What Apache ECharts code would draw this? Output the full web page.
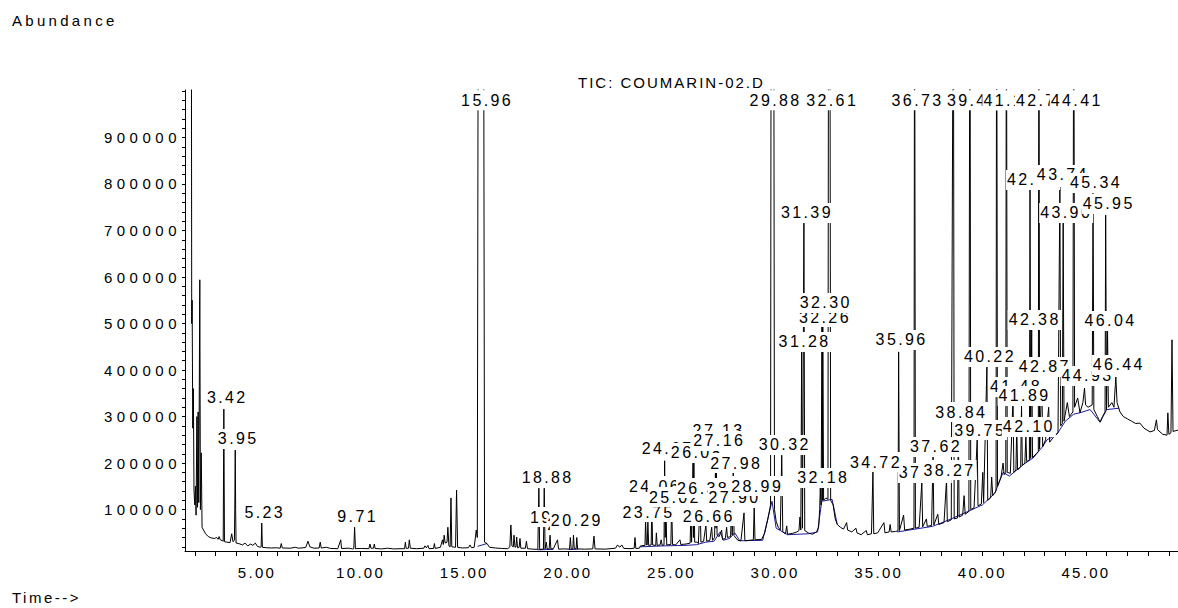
<!DOCTYPE html>
<html>
<head>
<meta charset="utf-8">
<script src="https://cdn.jsdelivr.net/npm/echarts@6/dist/echarts.min.js"></script>
<style>
html,body{margin:0;padding:0;background:#fff;}
#chart{width:1178px;height:608px;}
</style>
</head>
<body>
<div id="chart"></div>
<script>
// ---- Data (time in min, abundance) ----
const ticEarly = [
[1.76,1400000],[1.83,1400000],[1.85,500000],[1.87,550000],[1.90,275000],[1.93,360000],[1.96,140000],
[2.00,110000],[2.03,150000],[2.06,88000],[2.10,300000],[2.13,105000],[2.16,310000],[2.19,115000],
[2.24,594000],[2.27,100000],[2.31,222000],[2.35,62000],[2.42,56000],[2.52,48000],[2.65,42000],
[2.80,39000],[2.95,38000],[3.05,40000],[3.12,36000],[3.17,42000],[3.23,35000],[3.33,33000],
[3.37,32000],[3.40,316000],[3.43,31000],[3.55,30000],[3.70,29000],[3.78,48000],[3.84,31000],
[3.91,34000],[3.93,110000],[3.95,228000],[3.97,100000],[3.99,28000],[4.12,27000],[4.30,24000],
[4.42,28000],[4.55,22000],[4.70,26000],[4.80,23000],[4.92,28000],[5.02,21000],[5.15,19000],
[5.20,20000],[5.23,71000],[5.26,19000],[5.45,18000],[5.70,17500],[5.95,18000],[6.12,17000],
[6.17,27000],[6.22,17500],[6.60,17000],[6.85,19000],[7.00,17000],[7.35,18500],[7.46,32000],
[7.55,20000],[7.75,17000],[8.00,17500],[8.05,30000],[8.10,17500],[8.35,19000],[8.55,16500],
[8.90,16000],[9.04,35000],[9.08,16500],[9.45,17000],[9.60,15500],[9.67,16000],[9.71,62000],
[9.75,16000],[10.05,16500],[10.40,16000],[10.45,26000],[10.50,17000],[10.62,17000],[10.66,26000],
[10.70,16500],[11.00,15500],[11.30,17000],[11.60,15500],[11.95,16000],[12.12,16000],[12.16,30000],
[12.20,16500],[12.31,17000],[12.35,35000],[12.40,17000],[12.70,16000],[13.05,17000],[13.10,22000],
[13.17,18000],[13.25,23000],[13.30,16000],[13.52,16500],[13.56,27000],[13.60,16500],[13.85,19000],
[13.95,35000],[13.99,25000],[14.03,45000],[14.08,28000],[14.17,30000],[14.21,62000],[14.26,22000],
[14.32,20000],[14.36,125000],[14.40,20000],[14.58,19000],[14.63,142000],[14.68,19000],[14.90,17500],
[15.20,18000],[15.28,24000],[15.35,18000],[15.48,19000],[15.58,56000],[15.63,40000],[15.68,1400000],
[15.93,1400000],[15.98,30000],[16.10,27000],[16.22,19000],[16.50,17500]
];
const ticMid = [
[16.80,16500],[17.10,16000],[17.20,20000],[17.25,67000],[17.30,22000],[17.37,20000],[17.40,45000],
[17.45,19000],[17.50,20000],[17.53,41000],[17.57,18000],[17.65,19000],[17.69,38000],[17.73,17000],
[17.95,17000],[18.00,32000],[18.05,16000],[18.30,15000],[18.55,14500],[18.60,146000],[18.64,14500],
[18.82,15000],[18.86,146000],[18.90,15500],[18.96,30000],[19.00,15000],[19.10,16000],[19.14,45000],
[19.18,15500],[19.30,16000],[19.50,35000],[19.55,15000],[19.80,15500],[20.08,15000],[20.12,40000],
[20.16,15500],[20.24,15500],[20.27,45000],[20.31,16000],[20.40,16000],[20.43,40000],[20.47,15500],
[20.80,15000],[21.20,15500],[21.26,43000],[21.31,15500],[21.80,15000],[22.30,17000],[22.40,24000],
[22.50,19000],[22.60,24000],[22.70,16500],[23.00,16000],[23.20,17000],[23.24,40000],[23.28,16500],
[23.45,17000],[23.50,22000],[23.72,23000],[23.75,78000],[23.79,24000],[23.83,24000],[23.86,73000],
[23.90,23000],[24.02,24000],[24.05,114000],[24.09,24000],[24.24,23000],[24.27,50000],[24.31,23000],
[24.45,24000],[24.50,35000],[24.55,23000],[24.64,24000],[24.67,205000],[24.70,40000],[24.73,114000],
[24.77,24000],[24.97,25000],[25.01,114000],[25.05,25000],[25.20,24000],[25.41,35000],[25.45,25000],
[25.70,26000],[25.90,28000],[25.93,84000],[25.97,30000],[26.04,200000],[26.06,40000],[26.08,202000],
[26.12,30000],[26.25,30000],[26.30,27000],[26.38,127000],[26.42,30000],[26.55,32000],[26.66,67000],
[26.70,32000],[26.85,34000],[26.94,62000],[26.98,34000],[27.08,40000],[27.13,228000],[27.15,60000],
[27.16,220000],[27.20,45000],[27.30,42000],[27.42,56000],[27.46,36000],[27.60,38000],[27.66,62000],
[27.70,40000],[27.85,42000],[27.90,108000],[27.93,45000],[27.98,181000],[28.02,44000],[28.20,34000],
[28.35,33000],[28.50,93000],[28.54,33000],[28.75,34000],[28.95,35000],[28.99,106000],[29.03,35000],
[29.35,36000],[29.50,50000],[29.65,80000],[29.78,110000],[29.81,1400000],[29.93,1400000],[29.97,100000],
[30.05,75000],[30.15,62000],[30.25,56000],[30.32,217000],[30.37,52000],[30.50,48000],[30.56,65000],
[30.60,47000],[30.85,49000],[31.05,52000],[31.15,55000],[31.20,84000],[31.24,56000],[31.28,439000],
[31.32,60000],[31.39,716000],[31.43,55000],[31.60,50000],[31.80,47000],[32.00,52000],[32.10,62000],
[32.15,100000],[32.18,146000],[32.22,110000],[32.26,493000],[32.28,120000],[32.30,525000],[32.34,120000],
[32.45,125000],[32.55,122000],[32.58,1400000],[32.64,1400000],[32.68,120000],[32.80,110000],
[32.90,80000],[33.00,68000]
];
const ticLate = [
[33.15,62000],[33.30,58000],[33.45,72000],[33.50,56000],[33.70,52000],[33.90,60000],[33.95,50000],
[34.15,46000],[34.40,55000],[34.45,46000],[34.65,48000],[34.72,181000],[34.76,48000],[34.95,50000],
[35.25,72000],[35.30,50000],[35.50,52000],[35.55,68000],[35.60,52000],[35.80,53000],[35.93,54000],
[35.96,439000],[36.00,55000],[36.20,88000],[36.25,56000],[36.50,58000],[36.70,60000],[36.73,1400000],
[36.77,60000],[36.95,62000],[37.08,159000],[37.12,63000],[37.30,80000],[37.34,64000],[37.55,66000],
[37.62,213000],[37.66,67000],[37.85,90000],[37.90,68000],[38.15,72000],[38.27,164000],[38.31,74000],
[38.50,78000],[38.60,1400000],[38.64,80000],[38.80,82000],[38.84,288000],[38.88,84000],[39.05,88000],
[39.12,130000],[39.17,90000],[39.35,96000],[39.40,1400000],[39.44,100000],[39.60,104000],[39.75,250000],
[39.79,108000],[39.95,112000],[40.02,180000],[40.06,115000],[40.22,407000],[40.26,120000],[40.40,125000],
[40.45,170000],[40.50,130000],[40.66,140000],[40.69,1400000],[40.73,150000],[40.90,170000],[41.00,200000],
[41.05,175000],[41.13,180000],[41.16,1400000],[41.20,180000],[41.35,178000],[41.48,342000],[41.52,180000],
[41.62,185000],[41.66,280000],[41.70,185000],[41.85,192000],[41.89,323000],[41.93,195000],[42.05,200000],
[42.10,256000],[42.14,203000],[42.27,207000],[42.30,787000],[42.33,210000],[42.38,486000],[42.42,212000],
[42.60,220000],[42.70,225000],[42.73,1400000],[42.76,230000],[42.87,385000],[42.91,235000],[43.05,250000],
[43.20,320000],[43.25,245000],[43.50,260000],[43.65,265000],[43.74,793000],[43.78,280000],[43.86,285000],
[43.90,716000],[43.94,290000],[44.10,330000],[44.20,300000],[44.37,310000],[44.41,1400000],[44.45,320000],
[44.60,340000],[44.71,308000],[44.85,330000],[44.93,361000],[44.98,325000],[45.10,320000],[45.30,325000],
[45.34,780000],[45.38,315000],[45.55,300000],[45.68,288000],[45.80,300000],[45.92,310000],[45.95,733000],
[45.99,315000],[46.04,484000],[46.08,320000],[46.25,330000],[46.35,320000],[46.44,385000],[46.50,330000],
[46.64,310000],[46.80,300000],[47.00,295000],[47.20,290000],[47.40,285000],[47.60,286000],[47.80,275000],
[48.09,267000],[48.30,270000],[48.40,293000],[48.45,272000],[48.70,262000],[48.91,260000],[48.95,308000],
[49.00,262000],[49.10,265000],[49.15,465000],[49.20,268000],[49.44,271000]
];
// integration baseline segments (drawn in blue)
const baseSeg1 = [[15.64,21000],[16.10,27000]];
const baseSeg2 = [[18.55,13500],[19.30,14500]];
const baseSeg3 = [[20.05,14000],[20.50,15000]];
const baseSeg4 = [[23.50,20000],[24.60,22000],[25.60,23000],[26.20,24500],[26.65,30000],[27.05,32000],
[27.35,52000],[27.50,34000],[27.80,38000],[28.05,50000],[28.30,33000],[29.40,34000],[29.85,118000],
[30.05,60000],[30.60,46000],[31.60,48000],[32.05,52000],[32.25,118000],[32.75,122000],[33.00,68000]];
const baseSeg5 = [[35.90,52000],[37.60,64000],[38.50,80000],[39.30,96000],[40.00,110000],[40.60,135000],
[41.00,180000],[41.30,172000],[41.95,196000],[42.45,211000],[42.90,235000],[43.12,250000],[43.60,262000],
[44.00,290000],[44.40,305000],[44.70,308000],[45.20,315000],[45.68,288000],[46.00,315000],[46.60,318000]];

// peak labels (retention time) and the abundance level where each label sits, in drawing order
const labelTimes = [3.42,3.95,5.23,9.71,15.96,18.88,19.28,20.12,20.29,23.75,24.67,26.08,27.13,27.16,27.98,
24.06,25.02,26.38,27.90,28.99,26.66,29.88,30.32,31.28,31.39,32.18,32.26,32.30,32.61,37.08,34.72,38.27,
35.96,36.73,37.62,38.84,39.75,42.10,39.40,40.22,41.16,41.48,41.89,42.30,42.73,42.38,42.87,43.74,
43.90,44.41,44.93,45.34,45.95,46.04,46.44];
const labelLevels = [342000,252000,93000,86000,980000,170000,84000,68000,77600,94800,232000,221700,271000,247500,200000,
150700,127000,146400,125000,150700,86200,980000,238900,460300,737700,168000,514000,544200,980000,178700,202300,185100,
464600,980000,234600,309800,271100,277600,980000,428100,980000,363600,344200,808600,980000,507600,406600,819400,
737700,980000,387200,802200,757000,505500,410900];

const xLabelValues = [5,10,15,20,25,30,35,40,45];
const xTickValues = [2,3,4,5,6,7,8,9,10,11,12,13,14,15,16,17,18,19,20,21,22,23,24,25,26,27,28,29,30,31,32,33,34,35,36,37,38,39,40,41,42,43,44,45,46,47,48,49];
const yLabelValues = [100000,200000,300000,400000,500000,600000,700000,800000,900000];
const yTickValues = [20000,40000,60000,80000,100000,120000,140000,160000,180000,200000,220000,240000,260000,280000,300000,
320000,340000,360000,380000,400000,420000,440000,460000,480000,500000,520000,540000,560000,580000,600000,620000,640000,
660000,680000,700000,720000,740000,760000,780000,800000,820000,840000,860000,880000,900000,920000,940000,960000,980000,1000000];

const FONT = 'Liberation Sans, Arial, sans-serif';
const chart = echarts.init(document.getElementById('chart'), null, {renderer: 'svg'});

const labelData = labelTimes.map((t, i) => [t, labelLevels[i]]);
const baseSegs = [baseSeg1, baseSeg2, baseSeg3, baseSeg4, baseSeg5];

const series = baseSegs.map(seg => ({
  type: 'line', data: seg, symbol: 'none', silent: true, z: 1,
  lineStyle: {color: '#1a1aa0', width: 1}
}));
series.push({
  type: 'line', data: ticEarly.concat(ticMid, ticLate), symbol: 'none', silent: true, z: 2,
  lineStyle: {color: '#000', width: 1}
});
series.push({
  type: 'custom', data: labelData, silent: true, z: 10, clip: false,
  renderItem: function (params, api) {
    const p = api.coord([api.value(0), api.value(1)]);
    const text = labelTimes[params.dataIndex].toFixed(2);
    const w = text.length * 10.4 + 2, h = 20, cx = p[0] + 3;
    return {
      type: 'group',
      children: [
        {type: 'rect', shape: {x: cx - w / 2, y: p[1] - h / 2, width: w, height: h}, style: {fill: '#fff'}},
        {type: 'text', style: {text: text, x: cx, y: p[1], align: 'center', verticalAlign: 'middle',
          fontSize: 16, fontFamily: FONT, fill: '#000'}}
      ]
    };
  }
});

chart.setOption({
  animation: false,
  backgroundColor: '#fff',
  title: [
    {text: 'Abundance', left: 7, top: 8, textStyle: {fontSize: 15, fontWeight: 'normal', color: '#000', fontFamily: FONT}},
    {text: 'TIC: COUMARIN-02.D', left: 573, top: 70, textStyle: {fontSize: 15, fontWeight: 'normal', color: '#000', fontFamily: FONT}},
    {text: 'Time-->', left: 7, top: 585, textStyle: {fontSize: 15, fontWeight: 'normal', color: '#000', fontFamily: FONT}}
  ],
  grid: {left: 185, right: 0, top: 90, bottom: 57, containLabel: false},
  xAxis: {
    type: 'value', min: 1.526, max: 49.44,
    axisLine: {show: true, lineStyle: {color: '#000', width: 1}},
    axisTick: {show: true, customValues: xTickValues, length: 5, lineStyle: {color: '#000'}},
    axisLabel: {customValues: xLabelValues, formatter: v => v.toFixed(2), fontSize: 15, fontFamily: FONT, color: '#000', margin: 14},
    splitLine: {show: false}
  },
  yAxis: {
    type: 'value', min: 11000, max: 1002000,
    axisLine: {show: true, lineStyle: {color: '#000', width: 1}},
    axisTick: {show: true, customValues: yTickValues, length: 3, lineStyle: {color: '#000'}},
    axisLabel: {customValues: yLabelValues, formatter: v => String(v), fontSize: 15, fontFamily: FONT, color: '#000', margin: 4},
    splitLine: {show: false}
  },
  series: series
});

function spaceText() {
  document.querySelectorAll('#chart svg text').forEach(el => {
    const s = el.textContent.trim();
    let ls = 0;
    if (/^\d{6}$/.test(s)) ls = 4.5;
    else if (/^\d+\.00$/.test(s)) ls = 2.3;
    else if (/^\d+\.\d\d$/.test(s)) ls = 2.4;
    else if (s === 'Abundance') ls = 3.3;
    else if (s.indexOf('TIC') === 0) ls = 2;
    else if (s.indexOf('Time') === 0) ls = 2.5;
    el.style.letterSpacing = ls + 'px';
  });
}
spaceText();
chart.on('finished', spaceText);
</script>
</body>
</html>
